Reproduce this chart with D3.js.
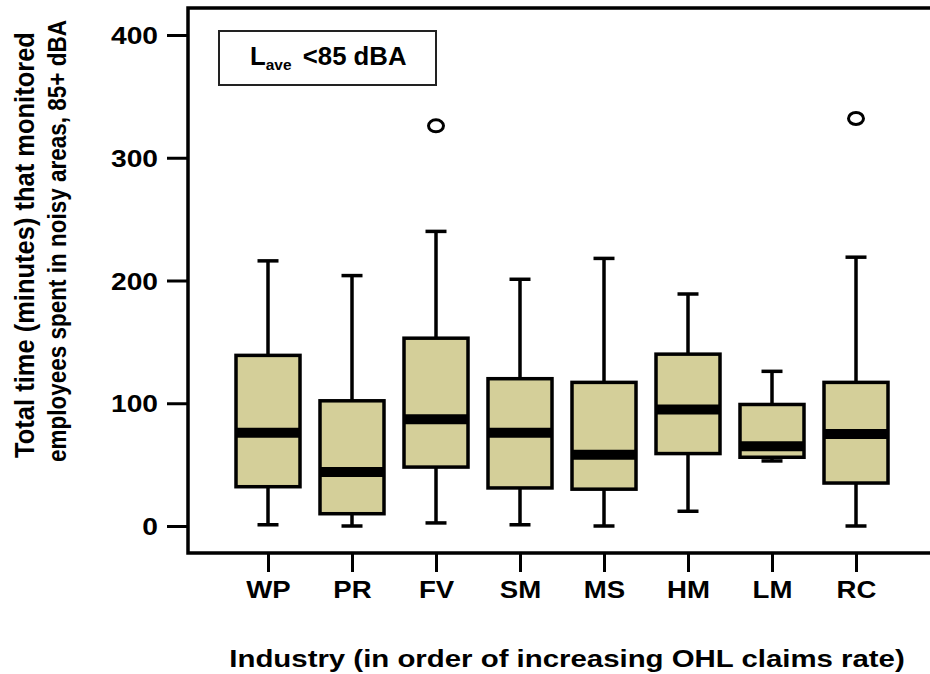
<!DOCTYPE html>
<html>
<head>
<meta charset="utf-8">
<script src="https://cdn.jsdelivr.net/npm/d3@7"></script>
<style>
  html, body { margin: 0; padding: 0; background: #ffffff; }
  svg { display: block; }
  text { font-family: "Liberation Sans", Arial, sans-serif; font-weight: bold; fill: #000; }
</style>
</head>
<body>
<svg id="chart" width="930" height="674"></svg>
<script>
// ---- data ----
const categories   = ["WP", "PR", "FV", "SM", "MS", "HM", "LM", "RC"];
const whiskerLow   = [1, 0, 2.5, 1, 0, 12, 53, 0];
const q1           = [32, 10, 48, 31, 30, 59, 56, 35];
const median       = [76, 44, 87, 76, 58, 95, 65, 75];
const q3           = [139, 102, 153, 120, 117, 140, 99, 117];
const whiskerHigh  = [216, 204, 240, 201, 218, 189, 126, 219];
const outlierCats  = ["FV", "RC"];
const outlierVals  = [326, 332];
const yTicks       = [0, 100, 200, 300, 400];
const yTitleLines  = ["Total time (minutes) that monitored", "employees spent in noisy areas, 85+ dBA"];
const xTitle       = "Industry (in order of increasing OHL claims rate)";
const legendMain   = "L";
const legendSub    = "ave";
const legendRest   = "<85 dBA";

// ---- layout ----
const frameLeft = 188, frameTop = 8, frameBottom = 553, frameRight = 932;
const svg = d3.select("#chart");
const stretch = 1.2;

const x = d3.scalePoint().domain(categories).range([268, 856]);
const y = d3.scaleLinear().domain([0, 400]).range([526, 35]);

const boxW = 64, capW = 21;
const fill = "#d4cf99";

const boxes = categories.map((c, i) => ({
  cat: c, lo: whiskerLow[i], q1: q1[i], med: median[i], q3: q3[i], hi: whiskerHigh[i]
}));

// ---- frame ----
svg.append("path")
  .attr("d", `M${frameRight},${frameTop} H${frameLeft} V${frameBottom} H${frameRight}`)
  .attr("fill", "none").attr("stroke", "#000").attr("stroke-width", 3.5);

// ---- y axis ticks ----
const yAxis = d3.axisLeft(y).tickValues(yTicks).tickSize(21).tickPadding(0);
const gy = svg.append("g").attr("transform", `translate(${frameLeft},0)`).call(yAxis)
  .attr("font-family", null);
gy.select(".domain").remove();
gy.selectAll(".tick line").attr("stroke", "#000").attr("stroke-width", 3);
gy.selectAll(".tick text")
  .attr("x", null).attr("dy", null)
  .attr("font-size", 23.5)
  .attr("text-anchor", "end")
  .attr("transform", "translate(-30,8.5) scale(" + stretch + ",1)");

// ---- x axis ticks ----
const xAxis = d3.axisBottom(x).tickSize(19).tickPadding(0);
const gx = svg.append("g").attr("transform", `translate(0,${frameBottom})`).call(xAxis)
  .attr("font-family", null);
gx.select(".domain").remove();
gx.selectAll(".tick line").attr("stroke", "#000").attr("stroke-width", 3);
gx.selectAll(".tick text")
  .attr("y", null).attr("dy", null)
  .attr("font-size", 23)
  .attr("text-anchor", "middle")
  .attr("transform", "translate(0,45) scale(" + stretch + ",1)");

// ---- boxes ----
const g = svg.append("g");
const bg = g.selectAll("g.box").data(boxes).join("g").attr("class", "box");

bg.append("line")
  .attr("x1", d => x(d.cat)).attr("x2", d => x(d.cat))
  .attr("y1", d => y(d.hi)).attr("y2", d => y(d.q3))
  .attr("stroke", "#000").attr("stroke-width", 3.5);
bg.append("line")
  .attr("x1", d => x(d.cat)).attr("x2", d => x(d.cat))
  .attr("y1", d => y(d.q1)).attr("y2", d => y(d.lo))
  .attr("stroke", "#000").attr("stroke-width", 3.5);
bg.append("line")
  .attr("x1", d => x(d.cat) - capW / 2).attr("x2", d => x(d.cat) + capW / 2)
  .attr("y1", d => y(d.hi)).attr("y2", d => y(d.hi))
  .attr("stroke", "#000").attr("stroke-width", 3.5);
bg.append("line")
  .attr("x1", d => x(d.cat) - capW / 2).attr("x2", d => x(d.cat) + capW / 2)
  .attr("y1", d => y(d.lo)).attr("y2", d => y(d.lo))
  .attr("stroke", "#000").attr("stroke-width", 3.5);
bg.append("rect")
  .attr("x", d => x(d.cat) - boxW / 2).attr("width", boxW)
  .attr("y", d => y(d.q3)).attr("height", d => y(d.q1) - y(d.q3))
  .attr("fill", fill).attr("stroke", "#000").attr("stroke-width", 3.5);
bg.append("line")
  .attr("x1", d => x(d.cat) - boxW / 2).attr("x2", d => x(d.cat) + boxW / 2)
  .attr("y1", d => y(d.med)).attr("y2", d => y(d.med))
  .attr("stroke", "#000").attr("stroke-width", 10);

g.selectAll("ellipse.out").data(outlierCats.map((c, i) => ({ cat: c, v: outlierVals[i] })))
  .join("ellipse").attr("class", "out")
  .attr("cx", d => x(d.cat)).attr("cy", d => y(d.v))
  .attr("rx", 7.5).attr("ry", 6)
  .attr("fill", "none").attr("stroke", "#000").attr("stroke-width", 3);

// ---- legend box ----
svg.append("rect")
  .attr("x", 219).attr("y", 31).attr("width", 217).attr("height", 54)
  .attr("fill", "#fff").attr("stroke", "#222").attr("stroke-width", 2);
const lt = svg.append("text")
  .attr("transform", "translate(250,65) scale(1.03,1)")
  .attr("font-size", 25);
lt.append("tspan").text(legendMain);
lt.append("tspan").attr("font-size", 15).attr("dy", 5).text(legendSub);
lt.append("tspan").attr("dy", -5).attr("dx", 11).text(legendRest);

// ---- axis titles ----
svg.append("text")
  .attr("transform", "translate(567,667) scale(1.2,1)")
  .attr("text-anchor", "middle").attr("font-size", 24.5)
  .text(xTitle);

const ys = 1.12;
const yTitleBase = [33.5, 66];
const yTitleCenter = [245, 241];
const yTitleSize = [25.5, 22.5];
const yt = svg.append("g").attr("transform", `scale(${ys},1)`);
yTitleLines.forEach((line, i) => {
  yt.append("text")
    .attr("transform", `translate(${yTitleBase[i] / ys},${yTitleCenter[i]}) rotate(-90)`)
    .attr("text-anchor", "middle").attr("font-size", yTitleSize[i])
    .text(line);
});
</script>
</body>
</html>
